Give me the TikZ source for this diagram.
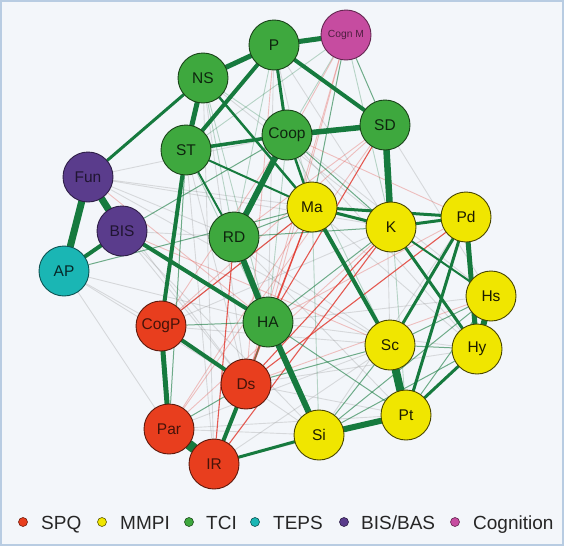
\documentclass[tikz,border=0pt]{standalone}
\usepackage{fontspec}
\setmainfont{Liberation Sans}
\definecolor{gfill}{RGB}{62,168,62}
\definecolor{yfill}{RGB}{240,230,0}
\definecolor{rfill}{RGB}{232,62,30}
\definecolor{pfill}{RGB}{90,60,140}
\definecolor{tfill}{RGB}{26,182,180}
\definecolor{mfill}{RGB}{198,76,160}
\definecolor{eg}{RGB}{22,122,62}
\definecolor{er}{RGB}{226,62,52}
\definecolor{bgc}{RGB}{243,246,250}
\definecolor{framec}{RGB}{184,204,226}
\pgfdeclarelayer{bg}
\pgfdeclarelayer{edges}
\pgfsetlayers{bg,edges,main}
\begin{document}
\begin{tikzpicture}[x=1pt,y=-1pt,
  nd/.style={circle, minimum size=50pt, inner sep=0pt, line width=0.9pt, font=\fontsize{15.5}{16}\selectfont},
  gn/.style={nd, fill=gfill, draw=gfill!40!black, text=gfill!22!black},
  yn/.style={nd, fill=yfill, draw=yfill!30!black, text=yfill!12!black},
  rn/.style={nd, fill=rfill, draw=rfill!40!black, text=rfill!30!black},
  pn/.style={nd, fill=pfill, draw=pfill!50!black, text=pfill!35!black},
  tn/.style={nd, fill=tfill, draw=tfill!45!black, text=tfill!22!black},
  mn/.style={nd, fill=mfill, draw=mfill!50!black, text=mfill!40!black},
  ge/.style={draw=eg, line cap=round},
  gthin/.style={draw=eg, line width=1pt, opacity=0.6},
  rthin/.style={draw=er, line width=1.1pt, opacity=0.85},
  rfaint/.style={draw=er, line width=0.9pt, opacity=0.3},
  faint/.style={draw=gray, line width=0.9pt, opacity=0.25},
  gfaint/.style={draw=eg, line width=0.9pt, opacity=0.28},
  legdot/.style={circle, minimum size=9pt, inner sep=0pt, line width=0.6pt},
  legtxt/.style={anchor=base west, inner sep=0pt, font=\fontsize{19}{20}\selectfont, text=black!85}
]
\begin{pgfonlayer}{bg}
  \fill[bgc] (0,0) rectangle (564,546);
  \draw[framec, line width=2pt] (1,1) rectangle (563,545);
\end{pgfonlayer}
\useasboundingbox (0,0) rectangle (564,546);

% nodes
\node[gn] (P) at (274,45) {P};
\node[mn, font=\fontsize{10.3}{11}\selectfont] (CognM) at (346,35) {Cogn M};
\node[gn] (NS) at (203,78) {NS};
\node[gn] (Coop) at (287,135) {Coop};
\node[gn] (SD) at (385,125) {SD};
\node[gn] (ST) at (186,150) {ST};
\node[pn] (Fun) at (88,177) {Fun};
\node[pn] (BIS) at (122,231) {BIS};
\node[tn] (AP) at (64,271) {AP};
\node[gn] (RD) at (234,237) {RD};
\node[yn] (Ma) at (312,207) {Ma};
\node[yn] (K) at (391,227) {K};
\node[yn] (Pd) at (466,217) {Pd};
\node[yn] (Hs) at (491,296) {Hs};
\node[yn] (Hy) at (477,349) {Hy};
\node[yn] (Sc) at (390,345) {Sc};
\node[gn] (HA) at (268,322) {HA};
\node[rn] (CogP) at (161,326) {CogP};
\node[rn] (Ds) at (246,384) {Ds};
\node[rn] (Par) at (169,429) {Par};
\node[rn] (IR) at (214,464) {IR};
\node[yn] (Si) at (319,435) {Si};
\node[yn] (Pt) at (406,415) {Pt};

\begin{pgfonlayer}{edges}
  % faint grey / light lines
  \foreach \a/\b in {Fun/Coop, Fun/Ma, Fun/K, Fun/RD, AP/CogP, AP/Par, AP/Ds, BIS/Ds, BIS/Si,
      NS/Ds, NS/IR, P/HA, P/Ma, ST/Ds, ST/IR, CogP/Ma, CogP/K, CogP/Sc, Par/Sc, Par/Pt, IR/Pt,
      IR/Sc, Ds/Pt, Ds/Hy, HA/Hs, HA/Hy, Si/Pd, RD/Sc, RD/Pt, Coop/Hy, Coop/Hs, SD/Hs, SD/Sc,
      NS/K, P/K, Fun/Ds, BIS/RD, CogP/Si, Par/Si, Ma/Hy, AP/HA, Fun/Sc}
    \draw[faint] (\a) -- (\b);
  \foreach \a/\b in {NS/RD, NS/HA, P/RD, Coop/HA, ST/HA, CognM/Coop, CognM/K, RD/Si, Ma/Si, CognM/ST, SD/Pt, Coop/Sc, NS/Coop}
    \draw[gfaint] (\a) -- (\b);
  \foreach \a/\b in {Coop/Pd, SD/RD, CognM/RD, CognM/HA, Fun/HA, BIS/Sc, SD/CogP, Ma/Par, K/Par, Coop/CogP, CognM/Ds, P/Ds, SD/Par, Hs/Ds, Pd/HA}
    \draw[rfaint] (\a) -- (\b);
  % red edges
  \foreach \a/\b in {RD/IR, Ma/Ds, Ma/IR, K/Ds, K/IR, SD/HA, Pd/Ds, Ma/CogP}
    \draw[rthin] (\a) -- (\b);
  % thin green edges
  \foreach \a/\b in {Coop/K, CognM/SD, CognM/Ma, Sc/Hy, Sc/Hs, HA/Pt, Ds/Sc, ST/Par, Par/Ds,
      Si/Sc, Si/Hs, RD/K, RD/Ma, HA/K, AP/Ma, BIS/Coop, Pt/Hs, Ds/HA, CogP/HA, Si/Hy}
    \draw[gthin] (\a) -- (\b);
  % medium and thick green edges
  \foreach \a/\b/\w in {NS/Ma/2.5, ST/Ma/2, ST/RD/2, Coop/Ma/2.5, K/Hs/2,
      P/NS/5, P/CognM/5, P/ST/4, P/SD/4, P/Coop/3, NS/ST/5, NS/Fun/3, ST/Coop/3.5,
      ST/CogP/4, Coop/SD/5.5, Coop/RD/6, SD/K/6.5, Fun/BIS/7, Fun/AP/7, BIS/AP/4,
      BIS/HA/4, RD/HA/6, HA/Si/6, CogP/Ds/4, CogP/Par/5, Par/IR/10, IR/Ds/4, IR/Si/3,
      Si/Pt/6, Sc/Pt/8, Hs/Hy/6, Pd/Hy/5, Ma/Sc/4, K/Pd/3, Ma/Pd/3, Ma/K/3, Pd/Sc/3,
      Pd/Pt/3, K/Hy/3, Pt/Hy/3}
    \draw[ge, line width=\w pt] (\a) -- (\b);
\end{pgfonlayer}

% legend
\node[legdot, fill=rfill, draw=rfill!50!black] (l1) at (23,522) {};
\node[legtxt] (t1) at (41,529.5) {SPQ};
\node[legdot, fill=yfill, draw=yfill!40!black] (l2) at (102,522) {};
\node[legtxt] (t2) at (120,529.5) {MMPI};
\node[legdot, fill=gfill, draw=gfill!45!black] (l3) at (189,522) {};
\node[legtxt] (t3) at (206,529.5) {TCI};
\node[legdot, fill=tfill, draw=tfill!45!black] (l4) at (255,522) {};
\node[legtxt] (t4) at (273,529.5) {TEPS};
\node[legdot, fill=pfill, draw=pfill!50!black] (l5) at (344,522) {};
\node[legtxt] (t5) at (361,529.5) {BIS/BAS};
\node[legdot, fill=mfill, draw=mfill!50!black] (l6) at (455,522) {};
\node[legtxt] (t6) at (473,529.5) {Cognition};
\end{tikzpicture}
\end{document}
